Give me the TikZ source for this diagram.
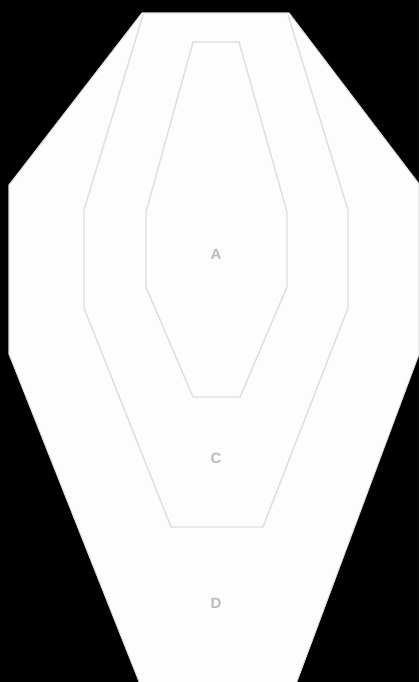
\documentclass[tikz,border=0pt]{standalone}
\usepackage{fontspec}
\setsansfont{Liberation Sans}
\usetikzlibrary{positioning}
\definecolor{zoneline}{HTML}{DEDEDE}
\definecolor{zonelabel}{HTML}{BBBBBB}
\definecolor{targetwhite}{HTML}{FDFDFD}

\begin{document}
\begin{tikzpicture}[
    x=0.02cm, y=-0.02cm,
    % ── Zone styles ──────────────────────────────────────────────────────
    zone/.style={
        draw=zoneline, line width=0.8pt, line join=miter
    },
    outerzone/.style={
        fill=targetwhite, draw=zoneline, line width=0.6pt
    },
    % ── Label style ──────────────────────────────────────────────────────
    zonetag/.style={
        font=\fontsize{8.5}{10}\selectfont\sffamily\bfseries,
        text=zonelabel, inner sep=1pt
    }
]

% ═══════════════════════════════════════════════════════════════════════════
% Background
% ═══════════════════════════════════════════════════════════════════════════
\fill[black] (0,0) rectangle (419,682);
\useasboundingbox (0,0) rectangle (419,682);

% ═══════════════════════════════════════════════════════════════════════════
% 1. D zone (outer silhouette)
% ═══════════════════════════════════════════════════════════════════════════
\draw[outerzone] (142,13) -- (289,13) -- (419,184) -- (419,354)
    -- (296,684) -- (140,684) -- (9,354) -- (9,185) -- cycle;

% ═══════════════════════════════════════════════════════════════════════════
% 2. C zone
% ═══════════════════════════════════════════════════════════════════════════
\draw[zone] (143,15) -- (84,210) -- (84,308) -- (171,527)
    -- (263,527) -- (348,308) -- (348,210) -- (288,15);

% ═══════════════════════════════════════════════════════════════════════════
% 3. A zone
% ═══════════════════════════════════════════════════════════════════════════
\draw[zone] (193,42) -- (239,42) -- (287,212) -- (287,287)
    -- (240,397) -- (193,397) -- (146,287) -- (146,212) -- cycle;

% Zone letters
\node[zonetag] (tagA) at (216,254) {A};
\node[zonetag] (tagC) at (216,458) {C};
\node[zonetag] (tagD) at (216,603) {D};

\end{tikzpicture}
\end{document}
